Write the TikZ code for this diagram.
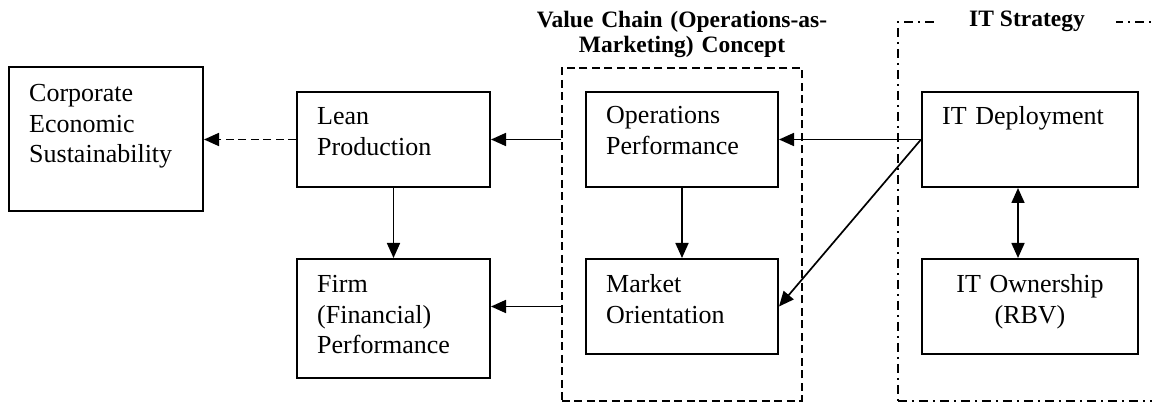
\documentclass[tikz,border=0pt]{standalone}
\usepackage{fontspec}
\setmainfont{Liberation Serif}
\usetikzlibrary{arrows.meta}

\begin{document}
\begin{tikzpicture}[
  x=1pt, y=-1pt,
  >={Triangle[length=15pt, width=13pt]},
  box/.style={draw, line width=2pt, anchor=north west, inner sep=0pt},
  txt/.style={anchor=base west, inner sep=0pt, text width=180pt, align=left,
    font=\fontsize{26}{30.5}\selectfont},
  arr/.style={line width=1.7pt, ->},
  vcframe/.style={draw, line width=1.8pt, dash pattern=on 8pt off 4.5pt,
    anchor=north west, inner sep=0pt},
  itframe/.style={draw, line width=1.8pt, dash pattern=on 9pt off 5pt on 2pt off 5pt,
    anchor=north west, inner sep=0pt},
  heading/.style={font=\bfseries\fontsize{23.5}{25}\selectfont, inner sep=0pt},
]
  \useasboundingbox (0,0) rectangle (1152,406);
  \clip (0,0) rectangle (1152,406);

  % the two groups
  \node[vcframe, minimum width=240, minimum height=333] (vc) at (561,67) {};
  \node[itframe, minimum width=280, minimum height=379] (it) at (897,21) {};
  \node[heading, anchor=base, text width=320pt, align=center] (vcT) at (682,28)
    {Value Chain (Operations-as-\\Marketing) Concept};
  \node[heading, anchor=base, fill=white, inner xsep=31pt, inner ysep=2pt] (itT)
    at (1027,27) {IT Strategy};

  % boxes
  \node[box, minimum width=194, minimum height=144] (ces) at (8,66) {};
  \node[box, minimum width=193, minimum height=95] (lean) at (296,91) {};
  \node[box, minimum width=193, minimum height=119] (firm) at (296,258) {};
  \node[box, minimum width=192, minimum height=95] (ops) at (585,91) {};
  \node[box, minimum width=192, minimum height=95] (mkt) at (585,258) {};
  \node[box, minimum width=216, minimum height=95] (itd) at (921,91) {};
  \node[box, minimum width=216, minimum height=95] (ito) at (921,258) {};

  % their texts
  \node[txt] (cesT) at ([shift={(21,36)}]ces.north west) {Corporate\\Economic\\Sustainability};
  \node[txt] (leanT) at ([shift={(21,34)}]lean.north west) {Lean\\Production};
  \node[txt] (firmT) at ([shift={(21,35)}]firm.north west) {Firm\\(Financial)\\Performance};
  \node[txt] (opsT) at ([shift={(21,33)}]ops.north west) {Operations\\Performance};
  \node[txt] (mktT) at ([shift={(21,35)}]mkt.north west) {Market\\Orientation};
  \node[txt] (itdT) at ([shift={(21,34)}]itd.north west) {IT Deployment};
  \node[txt, anchor=base, align=center] (itoT) at ([shift={(0,35)}]ito.north) {IT Ownership\\(RBV)};

  % links
  \draw[arr, dash pattern=on 8pt off 4.5pt] (lean.west) -- (ces.east |- lean.west);
  \draw[arr] (vc.west |- lean.east) -- (lean.east);
  \draw[arr] (vc.west |- mkt.east) -- (firm.east |- mkt.east);
  \draw[arr] (lean) -- (firm);
  \draw[arr] (ops) -- (mkt);
  \draw[arr] (itd.west) -- (ops.east);
  \draw[arr] (itd.west) -- (mkt.east);
  \draw[arr, <->] ([xshift=-12pt]itd.south) -- ([xshift=-12pt]ito.north);
\end{tikzpicture}
\end{document}
